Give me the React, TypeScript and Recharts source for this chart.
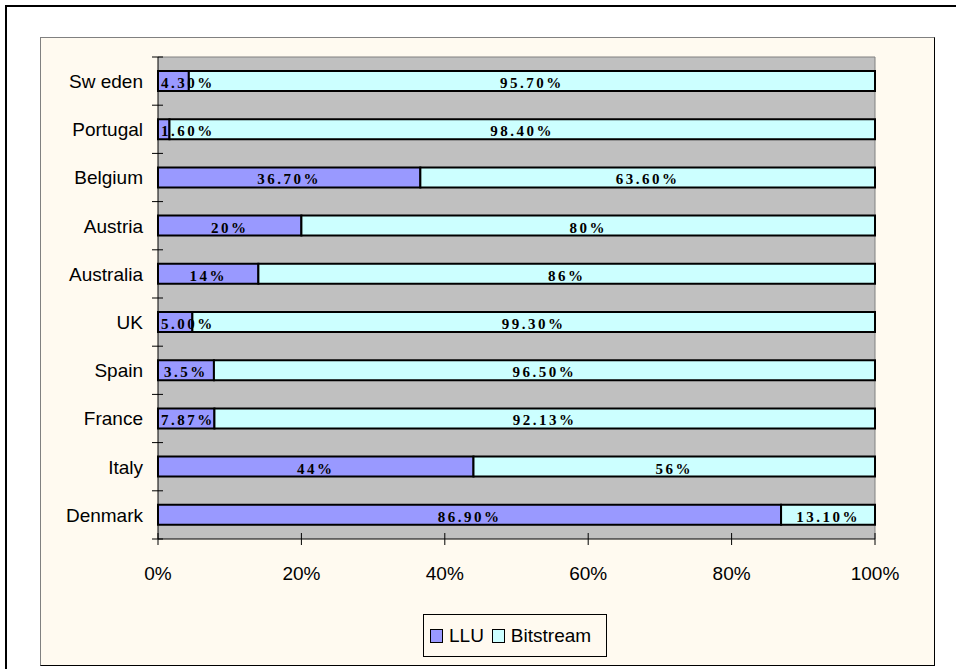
import { BarChart, Bar, XAxis, YAxis, CartesianGrid, Legend, LabelList } from 'recharts';

const countries = ['Sw eden', 'Portugal', 'Belgium', 'Austria', 'Australia', 'UK', 'Spain', 'France', 'Italy', 'Denmark'];
// bar lengths as drawn (Spain's bar is longer than its printed label)
const lluValues = [4.3, 1.6, 36.7, 20, 14, 5.0, 7.8, 7.87, 44, 86.9];
const bitstreamValues = [95.7, 98.4, 63.6, 80, 86, 99.3, 92.2, 92.13, 56, 13.1];
const lluLabels = ['4.30%', '1.60%', '36.70%', '20%', '14%', '5.00%', '3.5%', '7.87%', '44%', '86.90%'];
const bitstreamLabels = ['95.70%', '98.40%', '63.60%', '80%', '86%', '99.30%', '96.50%', '92.13%', '56%', '13.10%'];
const xTicks = [0, 0.2, 0.4, 0.6, 0.8, 1];

const LLU_COLOR = '#9999FF';
const BIT_COLOR = '#CCFFFF';
const SANS = "Arial, 'Liberation Sans', sans-serif";
const SERIF = "'Times New Roman', 'Liberation Serif', serif";

const data = countries.map((country, i) => ({
    country,
    llu: lluValues[i],
    bitstream: bitstreamValues[i],
    idx: i,
}));

const labelWidth = (s: string) => {
    let w = 0;
    for (const ch of s) w += (ch === '.' ? 3.75 : ch === '%' ? 15 : 7.5) + 2.5;
    return w;
};

const SegmentLabels = (props: any) => {
    const vb = props.viewBox ?? props;
    const x = Number(vb.x);
    const y = Number(vb.y);
    const width = Number(vb.width);
    const height = Number(vb.height);
    const i = Number(props.value);
    if (!Number.isFinite(x) || !Number.isFinite(i)) return null;
    const lluW = (width * lluValues[i]) / bitstreamValues[i];
    const lluX = x - lluW;
    const cy = y + height / 2 + 7;
    const lluText = lluLabels[i];
    const lluCx = Math.max(lluX + lluW / 2, lluX + labelWidth(lluText) / 2 + 3);
    const textStyle = {
        fontFamily: SERIF,
        fontWeight: 700,
        fontSize: 15,
        letterSpacing: 2.5,
        fill: '#000',
    } as const;
    return (
        <g>
            <text x={lluCx} y={cy} textAnchor="middle" {...textStyle}>
                {lluText}
            </text>
            <text x={x + width / 2} y={cy} textAnchor="middle" {...textStyle}>
                {bitstreamLabels[i]}
            </text>
        </g>
    );
};

const CountryTick = (props: any) => {
    const { x, y, payload } = props;
    const axisX = x + 15;
    const half = payload.offset ?? 24;
    const isLast = payload.value === countries[countries.length - 1];
    return (
        <g>
            <line x1={axisX - 6} x2={axisX + 5} y1={y - half} y2={y - half} stroke="#000" />
            {isLast && <line x1={axisX - 6} x2={axisX + 5} y1={y + half} y2={y + half} stroke="#000" />}
            <text x={x} y={y} dy="0.36em" textAnchor="end" fontFamily={SANS} fontSize={19} fill="#000">
                {payload.value}
            </text>
        </g>
    );
};

const PercentTick = (props: any) => {
    const { x, y, payload } = props;
    return (
        <g>
            <line x1={x} x2={x} y1={y - 6} y2={y + 6} stroke="#000" />
            <text x={x} y={y + 34} dy="0.355em" textAnchor="middle" fontFamily={SANS} fontSize={19} fill="#000">
                {`${Math.round(payload.value * 100)}%`}
            </text>
        </g>
    );
};

const Swatch = ({ color }: { color: string }) => (
    <span
        style={{
            display: 'inline-block',
            boxSizing: 'border-box',
            width: 13,
            height: 14,
            background: color,
            border: '1.5px solid #000',
        }}
    />
);

const LegendBox = () => (
    <div
        style={{
            boxSizing: 'border-box',
            width: 184,
            height: 43,
            border: '1px solid #000',
            display: 'flex',
            alignItems: 'center',
            paddingLeft: 6,
            fontFamily: SANS,
            fontSize: 19,
            color: '#000',
        }}
    >
        <Swatch color={LLU_COLOR} />
        <span style={{ marginLeft: 6 }}>LLU</span>
        <span style={{ marginLeft: 8, display: 'inline-flex' }}>
            <Swatch color={BIT_COLOR} />
        </span>
        <span style={{ marginLeft: 6 }}>Bitstream</span>
    </div>
);

export default function App() {
    return (
        <div style={{ position: 'absolute', left: 0, top: 0, width: 956, height: 669, background: '#fff' }}>
            <div
                style={{
                    position: 'absolute',
                    left: 5,
                    top: 5,
                    width: 951,
                    height: 664,
                    boxSizing: 'border-box',
                    borderTop: '2px solid #000',
                    borderLeft: '2px solid #000',
                }}
            />
            <div
                style={{
                    position: 'absolute',
                    left: 40,
                    top: 37,
                    width: 895,
                    height: 629,
                    boxSizing: 'border-box',
                    background: '#FFFAF0',
                    borderStyle: 'solid',
                    borderWidth: 1,
                    borderColor: '#808080 #000 #000 #808080',
                }}
            >
                <BarChart
                    width={893}
                    height={627}
                    data={data}
                    layout="vertical"
                    stackOffset="expand"
                    barSize={20}
                    margin={{ top: 19, right: 59, left: 17, bottom: 53 }}
                >
                    <CartesianGrid
                        fill="#C0C0C0"
                        stroke="#808080"
                        horizontalCoordinatesGenerator={({ offset }: any) => (offset ? [offset.top] : [])}
                        verticalCoordinatesGenerator={({ offset }: any) =>
                            offset ? [offset.left + offset.width] : []
                        }
                    />
                    <XAxis
                        type="number"
                        domain={[0, 1]}
                        ticks={xTicks}
                        tick={<PercentTick />}
                        tickLine={false}
                        tickSize={0}
                        tickMargin={0}
                        axisLine={{ stroke: '#000' }}
                        height={30}
                        interval={0}
                    />
                    <YAxis
                        type="category"
                        dataKey="country"
                        width={100}
                        tick={<CountryTick />}
                        tickLine={false}
                        tickSize={0}
                        tickMargin={15}
                        axisLine={{ stroke: '#000' }}
                        interval={0}
                    />
                    <Legend
                        verticalAlign="bottom"
                        content={<LegendBox />}
                        wrapperStyle={{ left: 382, top: 576, bottom: 'auto', width: 184 }}
                    />
                    <Bar
                        dataKey="llu"
                        name="LLU"
                        stackId="s"
                        fill={LLU_COLOR}
                        stroke="#000"
                        strokeWidth={2}
                        isAnimationActive={false}
                    />
                    <Bar
                        dataKey="bitstream"
                        name="Bitstream"
                        stackId="s"
                        fill={BIT_COLOR}
                        stroke="#000"
                        strokeWidth={2}
                        isAnimationActive={false}
                    >
                        <LabelList dataKey="idx" content={<SegmentLabels />} />
                    </Bar>
                </BarChart>
            </div>
        </div>
    );
}
